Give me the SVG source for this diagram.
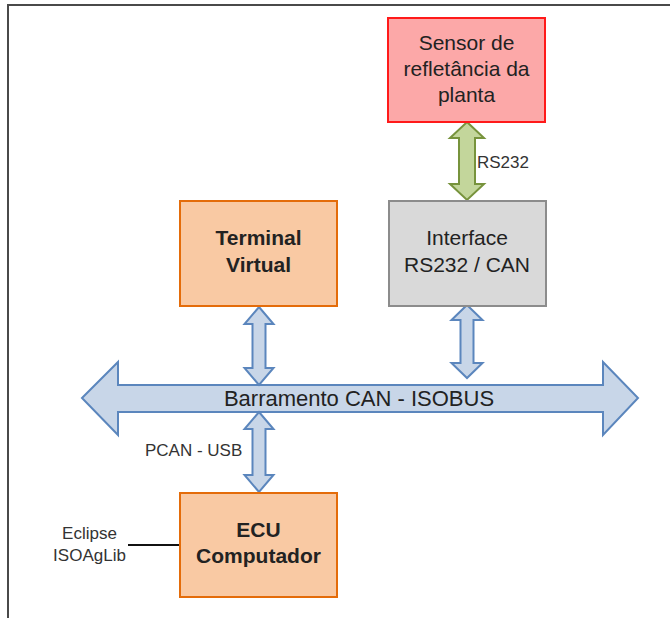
<svg xmlns="http://www.w3.org/2000/svg" width="670" height="618" viewBox="0 0 670 618">
  <style>
    text { font-family: "Liberation Sans", Arial, sans-serif; fill: #222; }
    .box-text { font-size: 21px; text-anchor: middle; }
    .bold { font-weight: bold; }
    .label { font-size: 17px; fill: #333; }
    .orange { fill: #f9c9a3; stroke: #e46c0a; stroke-width: 2; }
    .gray { fill: #d9d9d9; stroke: #8c8c8c; stroke-width: 2; }
    .red { fill: #fca8a8; stroke: #ff1a1a; stroke-width: 2; }
    .blue-arrow { fill: #c8d6e8; stroke: #5b86bd; stroke-width: 2; stroke-linejoin: miter; }
    .green-arrow { fill: #c3d69b; stroke: #77933c; stroke-width: 2; }
  </style>

  <rect width="670" height="618" fill="#ffffff"/>
  <!-- outer frame -->
  <path d="M8,618 V5 H670" fill="none" stroke="#4a4a4a" stroke-width="2"/>

  <g id="connectors">
    <!-- bus arrow -->
    <polygon class="blue-arrow" points="82,398 118,362 118,385 603,385 603,362 638,398 603,435 603,412 118,412 118,435"/>
    <!-- RS232 link -->
    <polygon class="green-arrow" points="467,122 484,138 475,138 475,184 484,184 467,200 450,184 459,184 459,138 450,138"/>
    <!-- terminal to bus -->
    <polygon class="blue-arrow" points="259,307 273.5,324 265.5,324 265.5,368 273.5,368 259,385 244.5,368 252.5,368 252.5,324 244.5,324"/>
    <!-- interface to bus -->
    <polygon class="blue-arrow" points="467,305 482.5,320 473.5,320 473.5,363 482.5,363 467,378 451.5,363 460.5,363 460.5,320 451.5,320"/>
    <!-- bus to ECU -->
    <polygon class="blue-arrow" points="259,412 273.5,429 265.5,429 265.5,475 273.5,475 259,492 244.5,475 252.5,475 252.5,429 244.5,429"/>
    <!-- software line -->
    <line x1="128" y1="545" x2="187" y2="545" stroke="#111" stroke-width="2"/>
  </g>

  <g id="bus-label">
    <text x="359" y="406" font-size="22" text-anchor="middle">Barramento CAN - ISOBUS</text>
  </g>
  <g id="rs232-label">
    <text class="label" x="477" y="168">RS232</text>
  </g>
  <g id="pcan-label">
    <text class="label" x="145" y="456" font-size="18">PCAN - USB</text>
  </g>
  <g id="software-label">
    <text class="label" x="89.5" y="539" text-anchor="middle" font-size="17.5">Eclipse</text>
    <text class="label" x="89.5" y="561" text-anchor="middle" font-size="17.5">ISOAgLib</text>
  </g>

  <g id="sensor">
    <rect class="red" x="388" y="18" width="157" height="104"/>
    <text class="box-text" x="466.5" y="50">Sensor de</text>
    <text class="box-text" x="466.5" y="76">refletância da</text>
    <text class="box-text" x="466.5" y="101.5">planta</text>
  </g>

  <g id="terminal">
    <rect class="orange" x="180" y="201" width="157" height="105"/>
    <text class="box-text bold" x="258.5" y="245">Terminal</text>
    <text class="box-text bold" x="258.5" y="271.5">Virtual</text>
  </g>

  <g id="interface">
    <rect class="gray" x="389" y="201" width="157" height="105"/>
    <text class="box-text" x="467" y="245">Interface</text>
    <text class="box-text" x="467" y="271.5">RS232 / CAN</text>
  </g>

  <g id="ecu">
    <rect class="orange" x="180" y="493" width="157" height="104"/>
    <text class="box-text bold" x="258.5" y="537">ECU</text>
    <text class="box-text bold" x="258.5" y="563">Computador</text>
  </g>
</svg>
